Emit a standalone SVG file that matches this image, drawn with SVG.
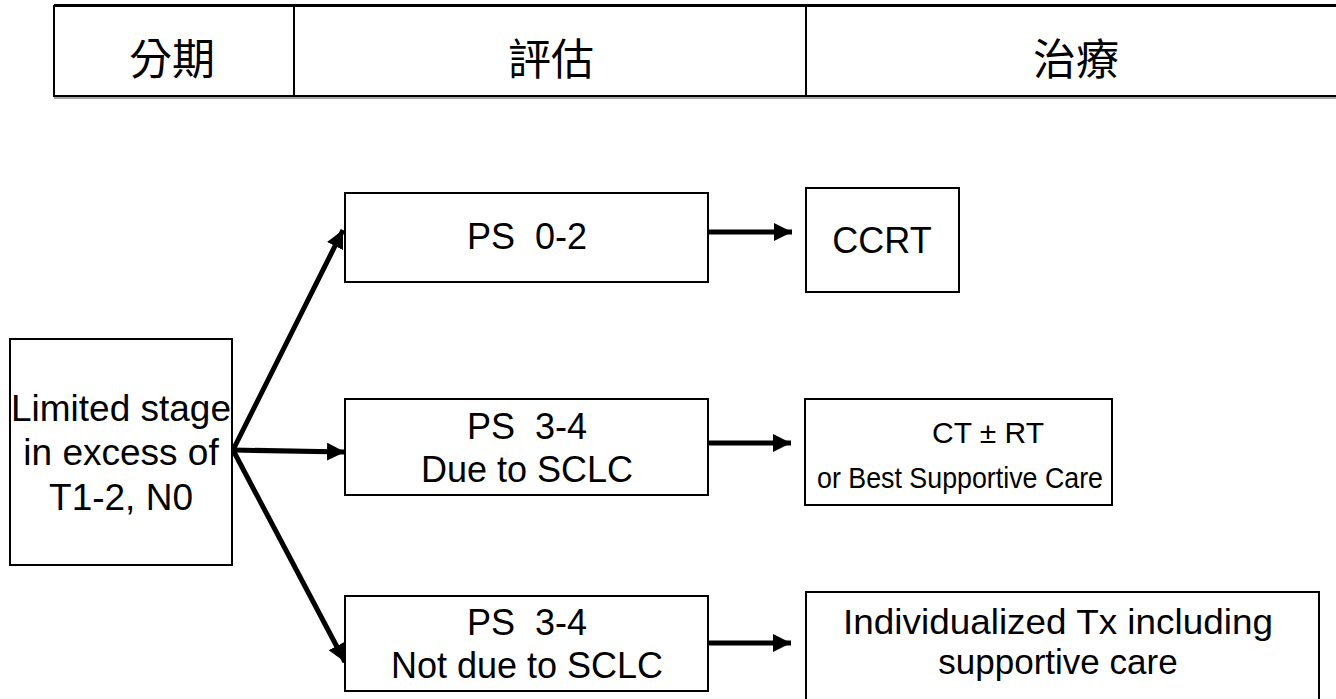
<svg xmlns="http://www.w3.org/2000/svg" width="1336" height="699" viewBox="0 0 1336 699">
<defs>
<style>
.box{fill:#fff;stroke:#000;stroke-width:2}
.t{font-family:"Liberation Sans",Arial,sans-serif;fill:#000;text-anchor:middle}
.cjk{font-family:"Noto Sans CJK TC","Noto Sans CJK SC",sans-serif;font-size:43px;fill:#000;text-anchor:middle;dominant-baseline:central}
.conn{stroke:#000;stroke-width:5;fill:none;marker-end:url(#ah)}
</style>
<marker id="ah" viewBox="0 0 10 10" refX="10" refY="5" markerWidth="18" markerHeight="18" markerUnits="userSpaceOnUse" orient="auto">
<path d="M0,0 L10,5 L0,10 z" fill="#000"/>
</marker>
</defs>
<rect width="1336" height="699" fill="#fff"/>
<g id="header">
<line x1="54" y1="5.5" x2="1336" y2="5.5" stroke="#000" stroke-width="3"/>
<line x1="54" y1="96" x2="1336" y2="96" stroke="#000" stroke-width="2"/>
<line x1="54" y1="98" x2="1336" y2="98" stroke="#888" stroke-width="1.5"/>
<line x1="54" y1="5" x2="54" y2="97" stroke="#000" stroke-width="2"/>
<line x1="294" y1="5" x2="294" y2="97" stroke="#000" stroke-width="2"/>
<line x1="806" y1="5" x2="806" y2="97" stroke="#000" stroke-width="2"/>
<text class="cjk" x="172" y="56">分期</text>
<text class="cjk" x="551" y="56">評估</text>
<text class="cjk" x="1076" y="56">治療</text>
</g>
<g id="connectors">
<line class="conn" x1="233" y1="450" x2="343" y2="230"/>
<line class="conn" x1="233" y1="450" x2="345" y2="452"/>
<line class="conn" x1="233" y1="450" x2="345" y2="662"/>
<line class="conn" x1="708" y1="232" x2="792" y2="232"/>
<line class="conn" x1="708" y1="443" x2="791" y2="443"/>
<line class="conn" x1="708" y1="643" x2="791" y2="643"/>
</g>
<g id="n-limited">
<rect class="box" x="10" y="339" width="222" height="226"/>
<text class="t" font-size="37" x="121" y="421">Limited stage</text>
<text class="t" font-size="37" x="121" y="465">in excess of</text>
<text class="t" font-size="37" x="121" y="510">T1-2, N0</text>
</g>
<g id="n-ps02">
<rect class="box" x="345" y="193" width="363" height="89"/>
<text class="t" font-size="36" x="527" y="249" xml:space="preserve">PS  0-2</text>
</g>
<g id="n-ps34a">
<rect class="box" x="345" y="399" width="363" height="96"/>
<text class="t" font-size="36" x="527" y="439" xml:space="preserve">PS  3-4</text>
<text class="t" font-size="36" x="527" y="482">Due to SCLC</text>
</g>
<g id="n-ps34b">
<rect class="box" x="345" y="596" width="363" height="95"/>
<text class="t" font-size="36" x="527" y="635" xml:space="preserve">PS  3-4</text>
<text class="t" font-size="36" x="527" y="678">Not due to SCLC</text>
</g>
<g id="n-ccrt">
<rect class="box" x="806" y="188" width="153" height="104"/>
<text class="t" font-size="36" x="882" y="253">CCRT</text>
</g>
<g id="n-ct">
<rect class="box" x="805" y="399" width="307" height="106"/>
<text class="t" font-size="30" x="988" y="443">CT ± RT</text>
<text class="t" font-size="30" x="960" y="488" textLength="286" lengthAdjust="spacingAndGlyphs">or Best Supportive Care</text>
</g>
<g id="n-indiv">
<rect class="box" x="806" y="592" width="513" height="120"/>
<text class="t" font-size="35" x="1058" y="634" textLength="430" lengthAdjust="spacingAndGlyphs">Individualized Tx including</text>
<text class="t" font-size="35" x="1058" y="674">supportive care</text>
</g>
</svg>
